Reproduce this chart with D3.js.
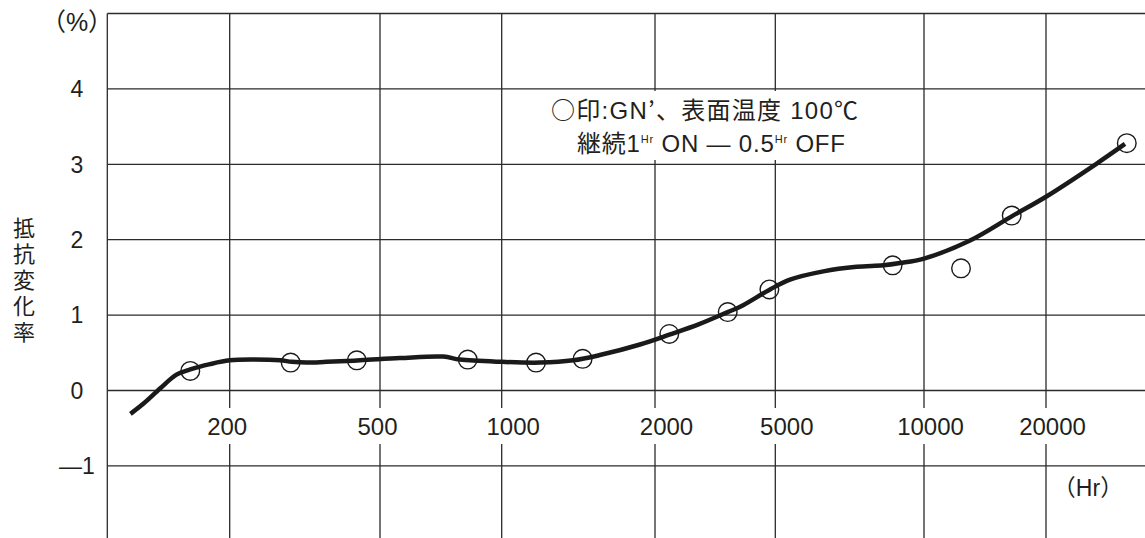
<!DOCTYPE html>
<html>
<head>
<meta charset="utf-8">
<script src="https://cdn.jsdelivr.net/npm/d3@7"></script>
<style>
  html, body { margin: 0; padding: 0; background: #fff; }
  svg { display: block; }
  text { font-family: "Liberation Sans", Arial, "Noto Sans CJK JP", sans-serif; fill: #231f20; }
  .cjk { font-family: "Noto Sans CJK JP", "Noto Sans CJK SC", sans-serif; }
</style>
</head>
<body>
<svg id="chart" width="1145" height="538"></svg>
<script>
// Resistance change (%) versus elapsed hours, GN' resistors, surface 100°C, 1Hr ON / 0.5Hr OFF cycling

// grid columns on the hours axis (irregular log paper)
const hourGrid = [100, 200, 500, 1000, 2000, 5000, 10000, 20000, 50000];
const hourTicks = [200, 500, 1000, 2000, 5000, 10000, 20000];
const valueTicks = [-1, 0, 1, 2, 3, 4];

// measured points (○)
const pointHours  = [160, 290, 434, 824, 1168, 1442, 2230, 3480, 4780, 8640, 12340, 16460, 32760];
const pointValues = [0.26, 0.37, 0.40, 0.41, 0.37, 0.42, 0.75, 1.04, 1.34, 1.66, 1.62, 2.32, 3.28];

// fitted trend curve
const curveHours  = [114, 123, 135, 148, 160, 179, 200, 231, 272, 292, 320, 361, 443, 560, 717, 788,
                     1000, 1189, 1382, 1559, 1869, 2230, 2800, 3480, 3824, 4804, 5355, 6255, 7306, 8272,
                     8945, 10000, 12990, 16460, 20000, 27270, 32400];
const curveValues = [-0.31, -0.17, 0.03, 0.21, 0.28, 0.35, 0.40, 0.41, 0.40, 0.38, 0.37, 0.38, 0.40, 0.43, 0.45, 0.41,
                     0.38, 0.37, 0.40, 0.47, 0.61, 0.74, 0.88, 1.04, 1.11, 1.34, 1.47, 1.58, 1.64, 1.66,
                     1.69, 1.75, 1.99, 2.31, 2.57, 3.01, 3.27];

// note text, split into CJK and Latin runs
const noteLine1 = [["○印", "cjk"], [":GN", ""], ["’、表面温度", "cjk"], [" 100", ""], ["℃", "cjk"]];
const noteLine2 = [["継続", "cjk"], ["1", ""], ["Hr", "sup"], [" ON — 0.5", ""], ["Hr", "sup"], [" OFF", ""]];

const W = 1145, H = 538;
const plotLeft = 107.3, plotTop = 13.5;
// column widths between successive grid lines of the paper
const colWidths = [122.4, 150.3, 121.7, 153.3, 120.3, 148.7, 122, 150];
const gridPx = colWidths.reduce((acc, w) => { acc.push(acc[acc.length - 1] + w); return acc; }, [plotLeft]);

const x = d3.scaleLog().domain(hourGrid).range(gridPx);
const y = d3.scaleLinear().domain([5, 0]).range([plotTop, 390.5]);

const svg = d3.select("#chart");
const gridColor = "#2b2b2b";

// grid
const grid = svg.append("g").attr("class", "grid")
  .attr("stroke", gridColor).attr("stroke-width", 1.3).attr("fill", "none");

grid.selectAll("line.h")
  .data([5].concat(valueTicks))
  .join("line").attr("class", "h")
  .attr("x1", plotLeft).attr("x2", W)
  .attr("y1", d => y(d)).attr("y2", d => y(d));

grid.selectAll("line.v")
  .data([hourGrid[0]].concat(hourTicks))
  .join("line").attr("class", "v")
  .attr("x1", d => x(d)).attr("x2", d => x(d))
  .attr("y1", plotTop).attr("y2", H);

// hours tick labels with a white backing that breaks the grid line
const shiftByDigits = {3: -2.5, 4: 11.5, 5: 6.5};
const xLab = svg.append("g").attr("class", "x-labels");
const xg = xLab.selectAll("g").data(hourTicks).join("g");
xg.append("text")
  .attr("x", d => x(d) + shiftByDigits[String(d).length])
  .attr("y", 435)
  .attr("text-anchor", "middle")
  .attr("font-size", 24)
  .text(d => d);
xg.each(function() {
  const g = d3.select(this);
  const b = g.select("text").node().getBBox();
  g.insert("rect", "text")
    .attr("x", b.x - 3).attr("width", b.width + 6)
    .attr("y", 408).attr("height", 36)
    .attr("fill", "#fff");
});

// value tick labels
svg.append("g").attr("class", "y-labels")
  .selectAll("text").data(valueTicks).join("text")
  .attr("x", 77).attr("y", d => y(d))
  .attr("dy", "0.36em")
  .attr("text-anchor", "middle")
  .attr("font-size", 23)
  .text(d => d < 0 ? "—" + Math.abs(d) : d);

// unit labels
svg.append("text")
  .attr("x", 77).attr("y", 22).attr("dy", "0.36em")
  .attr("text-anchor", "middle").attr("font-size", 25)
  .text("（%）");
svg.append("text")
  .attr("x", 1088).attr("y", 488).attr("dy", "0.36em")
  .attr("text-anchor", "middle").attr("font-size", 23)
  .text("（Hr）");

// vertical axis title, set in a vertical column
svg.append("text").attr("class", "cjk")
  .attr("x", 24).attr("y", 217)
  .attr("font-size", 22)
  .style("writing-mode", "vertical-rl")
  .style("letter-spacing", "4px")
  .text("抵抗変化率");

// note box
const note = svg.append("g").attr("class", "note");
note.append("rect").attr("fill", "#fff")
  .attr("x", 545).attr("width", 320).attr("y", 91).attr("height", 69);

function noteLine(runs, x0, y0, len) {
  const t = note.append("text")
    .attr("x", x0).attr("y", y0).attr("font-size", 24)
    .attr("textLength", len).attr("lengthAdjust", "spacing");
  let raised = false;
  runs.forEach(([s, kind]) => {
    const ts = t.append("tspan").text(s);
    if (kind === "cjk") ts.attr("class", "cjk");
    if (kind === "sup") { ts.attr("font-size", 11).attr("dy", -9); raised = true; }
    else if (raised) { ts.attr("dy", 9); raised = false; }
  });
  return t;
}
noteLine(noteLine1, 551, 119, 307);
noteLine(noteLine2, 577, 152, 268);

// trend curve
const line = d3.line()
  .x((d, i) => x(curveHours[i]))
  .y(d => y(d))
  .curve(d3.curveCatmullRom.alpha(0.5));
svg.append("path")
  .attr("d", line(curveValues))
  .attr("fill", "none")
  .attr("stroke", "#1a1a1a")
  .attr("stroke-width", 4.5)
  .attr("stroke-linecap", "butt")
  .attr("stroke-linejoin", "round");

// measured points
svg.append("g").attr("class", "points")
  .selectAll("circle").data(pointValues).join("circle")
  .attr("cx", (d, i) => x(pointHours[i]))
  .attr("cy", d => y(d))
  .attr("r", 9.3)
  .attr("fill", "none")
  .attr("stroke", "#1a1a1a")
  .attr("stroke-width", 1.4);
</script>
</body>
</html>
